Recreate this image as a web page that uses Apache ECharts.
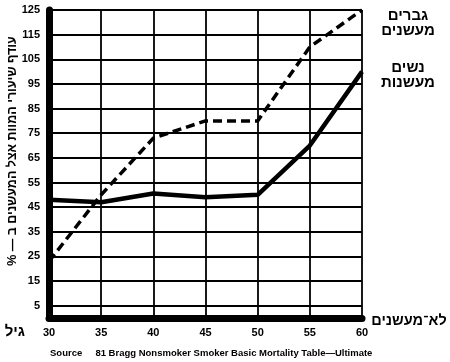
<!DOCTYPE html>
<html>
<head>
<meta charset="utf-8">
<script src="https://cdn.jsdelivr.net/npm/echarts@6/dist/echarts.min.js"></script>
<style>
html,body{margin:0;padding:0;background:#fff;}
#chart{width:450px;height:362px;}
</style>
</head>
<body>
<div id="chart"></div>
<script>
// ---- data ----
const ages = [30, 35, 40, 45, 50, 55, 60];
const menSmokers = [23, 50, 73, 80, 80, 110, 125];
const womenSmokers = [48, 47, 50.5, 49, 50, 70, 100];
const nonSmokers = [0, 0, 0, 0, 0, 0, 0];
const yTickLabels = [5, 15, 25, 35, 45, 55, 65, 75, 85, 95, 105, 115, 125];
const labelMen = 'גברים\nמעשנים';
const labelWomen = 'נשים\nמעשנות';
const labelNon = 'לא־מעשנים';
const yTitle = '% — עודף שיעורי המוות אצל המעשנים ב';
const xTitle = 'גיל';
const sourceText = 'Source     81 Bragg Nonsmoker Smoker Basic Mortality Table—Ultimate';

const FONT = '"Liberation Sans", "DejaVu Sans", Arial, sans-serif';
const pair = arr => ages.map((a, i) => [a, arr[i]]);

const chart = echarts.init(document.getElementById('chart'), null, {renderer: 'canvas'});
chart.setOption({
  animation: false,
  backgroundColor: '#fff',
  title: {
    text: sourceText,
    left: 45, top: 343,
    textStyle: {fontFamily: FONT, fontSize: 9.5, fontWeight: 'bold', color: '#000'}
  },
  grid: {left: 49, right: 88, top: 10, bottom: 44, containLabel: false, outerBoundsMode: 'none'},
  xAxis: {
    type: 'value', min: 30, max: 60, interval: 5,
    name: xTitle, nameLocation: 'start', nameGap: 24, nameMoveOverlap: false,
    nameTextStyle: {fontFamily: FONT, fontSize: 15, fontWeight: 'bold', color: '#000',
      verticalAlign: 'top', padding: [6, 0, 0, 0]},
    axisLine: {show: true, lineStyle: {color: '#000', width: 7}},
    axisTick: {show: false},
    axisLabel: {fontFamily: FONT, fontSize: 11, fontWeight: 'bold', color: '#000', margin: 9},
    splitLine: {show: true, lineStyle: {color: '#000', width: 1.8}}
  },
  yAxis: {
    type: 'value', min: 0, max: 125, interval: 5,
    name: yTitle, nameLocation: 'middle', nameRotate: 90, nameGap: 30, nameMoveOverlap: false,
    nameTextStyle: {fontFamily: FONT, fontSize: 12.5, fontWeight: 'bold', color: '#000', padding: [0, 0, 0, 26]},
    axisLine: {show: true, lineStyle: {color: '#000', width: 7}},
    axisTick: {show: false},
    axisLabel: {
      fontFamily: FONT, fontSize: 11, fontWeight: 'bold', color: '#000', margin: 9,
      formatter: v => (yTickLabels.indexOf(v) >= 0 ? String(v) : '')
    },
    splitLine: {show: true, lineStyle: {color: ['rgba(0,0,0,0)', '#000'], width: 1.8}}
  },
  series: [
    {
      name: labelMen, type: 'line', data: pair(menSmokers), symbol: 'none',
      lineStyle: {color: '#000', width: 3.5, type: [9, 5]},
      endLabel: {show: true, formatter: labelMen, align: 'center', verticalAlign: 'middle',
        distance: 0, offset: [46, 13], fontFamily: FONT, fontSize: 15, fontWeight: 'bold',
        color: '#000', lineHeight: 15}
    },
    {
      name: labelWomen, type: 'line', data: pair(womenSmokers), symbol: 'none',
      lineStyle: {color: '#000', width: 4.5},
      endLabel: {show: true, formatter: labelWomen, align: 'center', verticalAlign: 'middle',
        distance: 0, offset: [46, 4], fontFamily: FONT, fontSize: 15, fontWeight: 'bold',
        color: '#000', lineHeight: 15}
    },
    {
      name: labelNon, type: 'line', data: pair(nonSmokers), symbol: 'none',
      lineStyle: {color: '#000', width: 0, opacity: 0},
      endLabel: {show: true, formatter: labelNon, align: 'center', verticalAlign: 'middle',
        distance: 0, offset: [47, 3], fontFamily: FONT, fontSize: 14.5, fontWeight: 'bold',
        color: '#000'}
    }
  ]
});
</script>
</body>
</html>
